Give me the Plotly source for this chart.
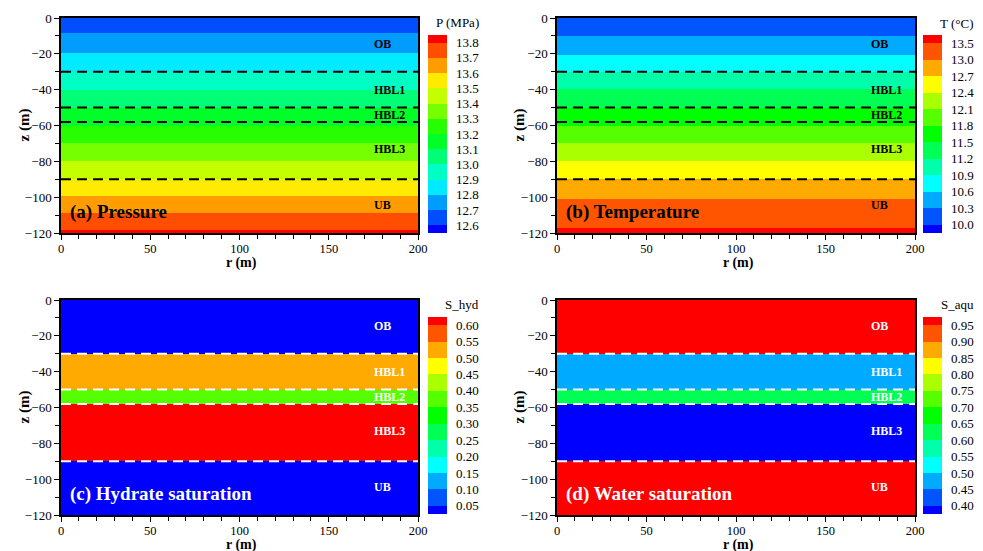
import plotly.graph_objects as go
import numpy as np

W, H = 983, 551
OFF = 8  # page body margin of the written html
SERIF = "Liberation Serif"

# ---------------- data ----------------
layer_bounds = [-30, -50, -58, -90]
layer_names = ["OB", "HBL1", "HBL2", "HBL3", "UB"]
layer_label_r = [180, 184, 184, 184, 180]
layer_label_z = [-14.5, -40, -54, -73, -104.5]

# Pressure (MPa)
p_levels = [12.6, 12.7, 12.8, 12.9, 13.0, 13.1, 13.2, 13.3, 13.4, 13.5, 13.6, 13.7, 13.8]
p_edges = [0, -8.5, -19.7, -30, -40, -50, -60, -70, -80, -90, -99.5, -109, -118.4, -120]
p_values = [12.65, 12.75, 12.85, 12.95, 13.05, 13.15, 13.25, 13.35, 13.45, 13.55, 13.65, 13.75, 13.85]

# Temperature (°C)
t_levels = [10.0, 10.3, 10.6, 10.9, 11.2, 11.5, 11.8, 12.1, 12.4, 12.7, 13.0, 13.5]
t_edges = [0, -10.2, -20.5, -30, -39.6, -50, -60, -69.8, -79.6, -90, -100.8, -117.2, -120]
t_values = [10.15, 10.45, 10.75, 11.05, 11.35, 11.65, 11.95, 12.25, 12.55, 12.85, 13.25, 13.6]

# Saturations
s_edges = [0, -30, -50, -58, -90, -120]
sh_levels = [0.05, 0.10, 0.15, 0.20, 0.25, 0.30, 0.35, 0.40, 0.45, 0.50, 0.55, 0.60]
sh_values = [0.0, 0.53, 0.37, 0.65, 0.0]
sw_levels = [0.40, 0.45, 0.50, 0.55, 0.60, 0.65, 0.70, 0.75, 0.80, 0.85, 0.90, 0.95]
sw_values = [1.0, 0.47, 0.63, 0.35, 1.0]

r_extent = [0, 200]

# ---------------- helpers ----------------
def rainbow(t):
    stops = [(0, (0, 0, 255)), (0.25, (0, 255, 255)), (0.5, (0, 255, 0)),
             (0.75, (255, 255, 0)), (1.0, (255, 0, 0))]
    for (t0, c0), (t1, c1) in zip(stops[:-1], stops[1:]):
        if t <= t1 + 1e-12:
            f = (t - t0) / (t1 - t0)
            return "rgb(%d,%d,%d)" % tuple(round(a + (b - a) * f) for a, b in zip(c0, c1))
    return "rgb(255,0,0)"


def discrete_scale(n):
    scale = []
    for i in range(n):
        c = rainbow(i / (n - 1))
        lo = max(0.0, (i - 0.5) / (n - 1))
        hi = min(1.0, (i + 0.5) / (n - 1))
        scale.append([lo, c])
        scale.append([hi, c])
    return scale


def fmt(levels, nd):
    return [("%." + str(nd) + "f") % v for v in levels]


def fx(px):
    return (px - OFF) / W


def fy(py):
    return 1 - (py - OFF) / H


panels = [
    dict(levels=p_levels, edges=p_edges, values=p_values, nd=1, title="P (MPa)",
         label="(a) Pressure", dash="black", text="black"),
    dict(levels=t_levels, edges=t_edges, values=t_values, nd=1, title="T (°C)",
         label="(b) Temperature", dash="black", text="black"),
    dict(levels=sh_levels, edges=s_edges, values=sh_values, nd=2, title="S_hyd",
         label="(c) Hydrate saturation", dash="white", text="white"),
    dict(levels=sw_levels, edges=s_edges, values=sw_values, nd=2, title="S_aqu",
         label="(d) Water saturation", dash="white", text="white"),
]

# pixel geometry of the four panels (page pixels)
px_x = [(61, 418), (557, 915), (61, 418), (557, 915)]
px_y = [(18, 233), (18, 233), (300, 515), (300, 515)]
cb_x = [428, 923, 428, 923]
cb_y = [(35, 233), (35, 233), (317, 514), (317, 514)]
cbt_pos = [(457, 22), (956, 23), (462, 304), (957, 304)]
ztitle_x = [24, 519, 24, 519]

fig = go.Figure()
shapes = []
annotations = []

for k, pn in enumerate(panels):
    n = len(pn["levels"]) + 1
    idx = [int(np.searchsorted(pn["levels"], v, side="right")) for v in pn["values"]]
    edges = list(reversed(pn["edges"]))
    zz = [[i] for i in reversed(idx)]
    xa = "x" if k == 0 else "x%d" % (k + 1)
    ya = "y" if k == 0 else "y%d" % (k + 1)
    fig.add_trace(go.Heatmap(
        x=r_extent, y=edges, z=zz, xaxis=xa, yaxis=ya,
        zmin=0, zmax=n - 1, colorscale=discrete_scale(n), hoverinfo="skip",
        colorbar=dict(
            x=fx(cb_x[k]), xanchor="left", xpad=0,
            y=fy(cb_y[k][0]), yanchor="top", ypad=0,
            len=(cb_y[k][1] - cb_y[k][0]) / H, lenmode="fraction",
            thickness=19, thicknessmode="pixels", outlinewidth=0,
            tickvals=[j + 0.5 for j in range(len(pn["levels"]))],
            ticktext=fmt(pn["levels"], pn["nd"]),
            ticks="outside", ticklen=7, tickcolor="rgba(0,0,0,0)",
            tickfont=dict(family=SERIF, size=13, color="black"),
        ),
    ))
    sfx = "" if k == 0 else str(k + 1)
    fig.layout["xaxis" + sfx] = dict(
        domain=[fx(px_x[k][0]), fx(px_x[k][1])], anchor="y" + sfx, automargin=False,
        range=[0, 200], tickvals=[0, 50, 100, 150, 200], showgrid=False, zeroline=False,
        ticks="outside", ticklen=5, tickwidth=1, tickcolor="black", ticklabelstandoff=-2,
        minor=dict(dtick=10, ticks="outside", ticklen=4, tickcolor="black", showgrid=False),
        showline=True, linecolor="black", linewidth=1.5, mirror=True,
        tickfont=dict(family=SERIF, size=12.5, color="black"),
    )
    fig.layout["yaxis" + sfx] = dict(
        domain=[fy(px_y[k][1]), fy(px_y[k][0])], anchor="x" + sfx, automargin=False,
        range=[-120, 0], tickvals=[0, -20, -40, -60, -80, -100, -120], showgrid=False,
        zeroline=False, ticks="outside", ticklen=5, tickwidth=1, tickcolor="black",
        minor=dict(dtick=10, ticks="outside", ticklen=4, tickcolor="black", showgrid=False),
        showline=True, linecolor="black", linewidth=1.5, mirror=True,
        tickfont=dict(family=SERIF, size=13, color="black"),
    )
    for zb in layer_bounds:
        shapes.append(dict(type="line", xref=xa, yref=ya, x0=0, x1=200, y0=zb, y1=zb,
                           line=dict(color=pn["dash"], width=2, dash="10px,6px"), layer="above"))
    for name, rr, zl in zip(layer_names, layer_label_r, layer_label_z):
        annotations.append(dict(xref=xa, yref=ya, x=rr, y=zl, text="<b>%s</b>" % name,
                                showarrow=False, font=dict(family=SERIF, size=12, color=pn["text"])))
    annotations.append(dict(xref=xa, yref=ya, x=4, y=-108.5, text="<b>%s</b>" % pn["label"],
                            xanchor="left", yanchor="middle", showarrow=False,
                            font=dict(family=SERIF, size=19, color=pn["text"])))
    # colorbar title
    annotations.append(dict(xref="paper", yref="paper", x=fx(cbt_pos[k][0]), y=fy(cbt_pos[k][1]),
                            text=pn["title"], showarrow=False, xanchor="center", yanchor="middle",
                            font=dict(family=SERIF, size=13, color="black")))
    # axis titles
    xc = (px_x[k][0] + px_x[k][1]) / 2
    annotations.append(dict(xref="paper", yref="paper", x=fx(xc + 2), y=fy(px_y[k][1] + 30),
                            text="<b>r (m)</b>", showarrow=False, xanchor="center", yanchor="middle",
                            font=dict(family=SERIF, size=14, color="black")))
    yc = (px_y[k][0] + px_y[k][1]) / 2
    annotations.append(dict(xref="paper", yref="paper", x=fx(ztitle_x[k]), y=fy(yc),
                            text="<b>z (m)</b>", showarrow=False, textangle=-90,
                            xanchor="center", yanchor="middle",
                            font=dict(family=SERIF, size=15, color="black")))

fig.update_layout(
    width=W, height=H, margin=dict(l=0, r=0, t=0, b=0, autoexpand=False),
    paper_bgcolor="white", plot_bgcolor="white",
    shapes=shapes, annotations=annotations, showlegend=False,
    font=dict(family=SERIF, color="black"),
)

fig.write_html("out.html")
